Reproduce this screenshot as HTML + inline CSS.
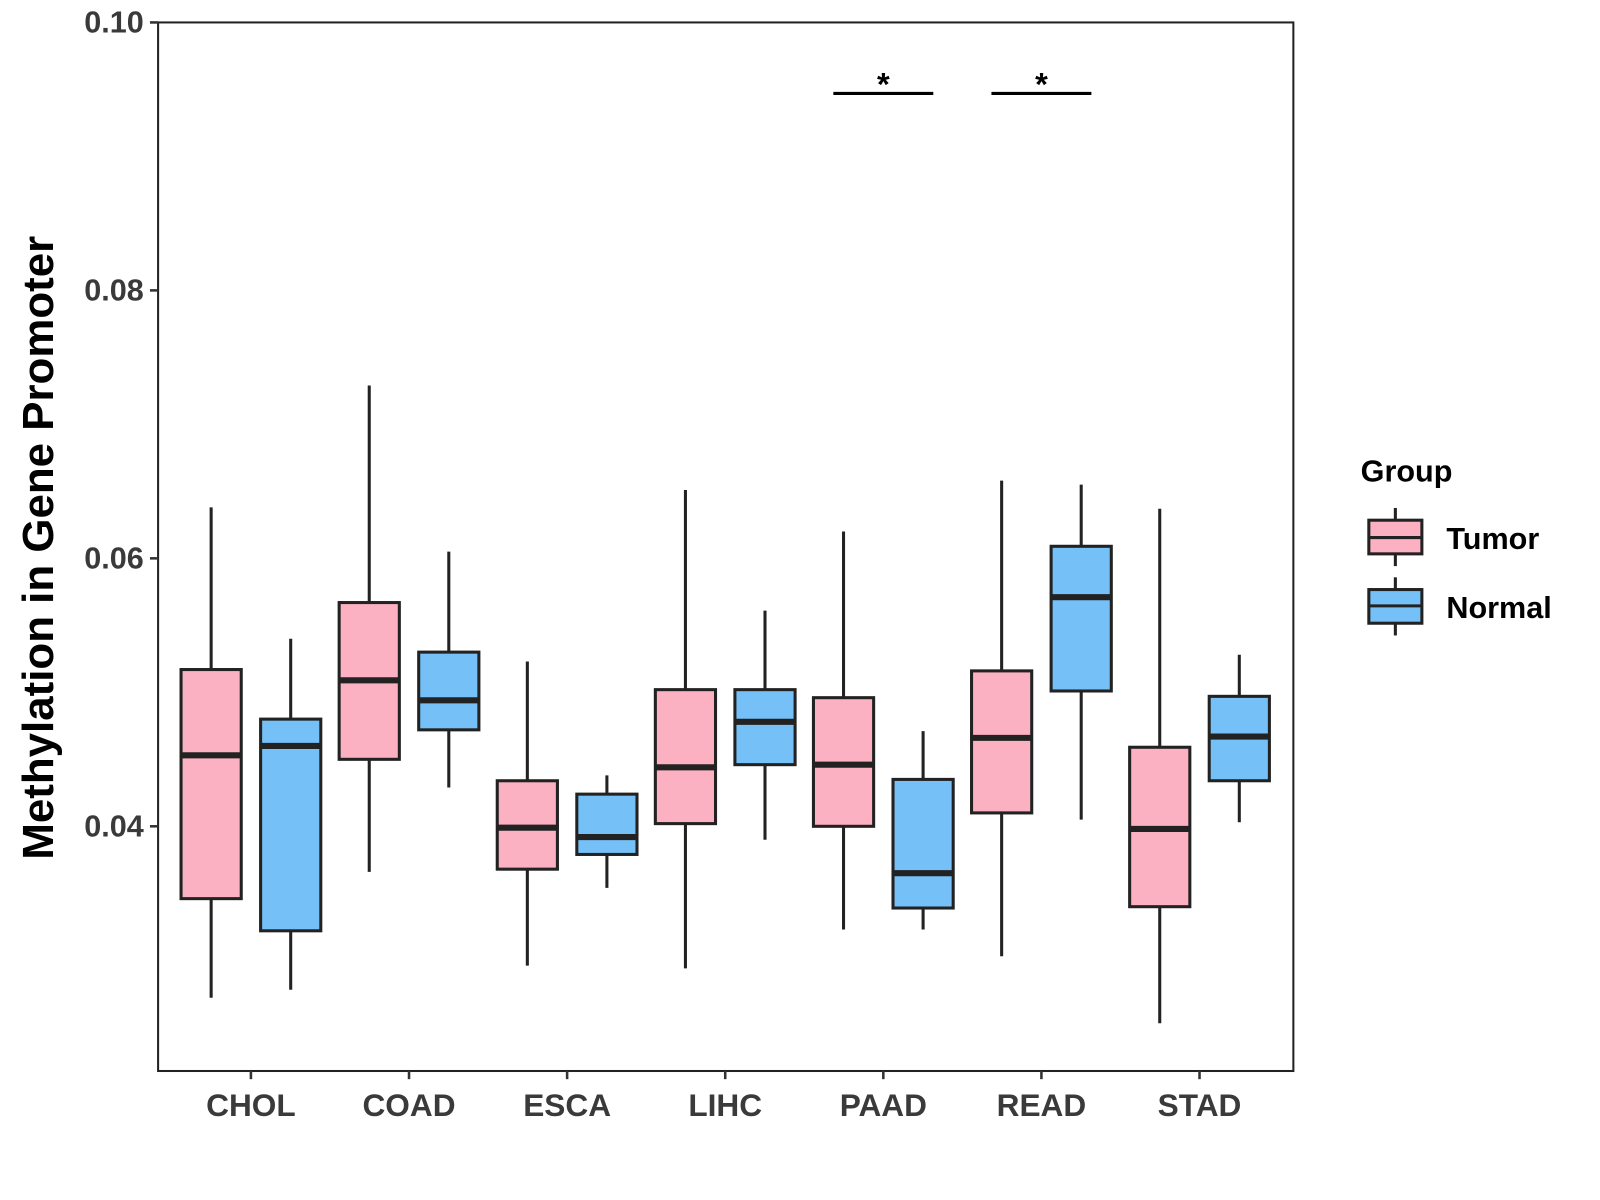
<!DOCTYPE html>
<html><head><meta charset="utf-8"><style>
html,body{margin:0;padding:0;background:#fff;}
svg{display:block;font-family:"Liberation Sans",Arial,sans-serif;}
</style></head><body>
<svg id="chart" width="1600" height="1200" viewBox="0 0 1600 1200" xmlns="http://www.w3.org/2000/svg">
<rect x="0" y="0" width="1600" height="1200" fill="#fff"/>
<g transform="scale(1.02)">
<g id="plot"></g>
<text transform="translate(52,537) rotate(-90)" text-anchor="middle" font-size="43" font-weight="bold" fill="#000">Methylation in Gene Promoter</text>
<g>
<text x="1334" y="472" font-size="30" font-weight="bold" fill="#000">Group</text>
<g>
<line x1="1368" y1="498" x2="1368" y2="555" stroke="#222" stroke-width="3"/>
<rect x="1342" y="510" width="52" height="33" fill="#fbb1c1" stroke="#222" stroke-width="3"/>
<line x1="1342" y1="527" x2="1394" y2="527" stroke="#222" stroke-width="3"/>
<text x="1418" y="538" font-size="30" font-weight="bold" fill="#000">Tumor</text>
</g>
<g>
<line x1="1368" y1="566" x2="1368" y2="623" stroke="#222" stroke-width="3"/>
<rect x="1342" y="578" width="52" height="33" fill="#75c1f7" stroke="#222" stroke-width="3"/>
<line x1="1342" y1="594" x2="1394" y2="594" stroke="#222" stroke-width="3"/>
<text x="1418" y="606" font-size="30" font-weight="bold" fill="#000">Normal</text>
</g>
</g>
</g>
</svg>
<script>
const categories = ["CHOL","COAD","ESCA","LIHC","PAAD","READ","STAD"];
// [whiskerLow, Q1, median, Q3, whiskerHigh]
const tumorStats = [
  [0.0272,0.0346,0.0453,0.0517,0.0638],
  [0.0366,0.0450,0.0509,0.0567,0.0729],
  [0.0296,0.0368,0.0399,0.0434,0.0523],
  [0.0294,0.0402,0.0444,0.0502,0.0651],
  [0.0323,0.0400,0.0446,0.0496,0.0620],
  [0.0303,0.0410,0.0466,0.0516,0.0658],
  [0.0253,0.0340,0.0398,0.0459,0.0637]
];
const normalStats = [
  [0.0278,0.0322,0.0460,0.0480,0.0540],
  [0.0429,0.0472,0.0494,0.0530,0.0605],
  [0.0354,0.0379,0.0392,0.0424,0.0438],
  [0.0390,0.0446,0.0478,0.0502,0.0561],
  [0.0323,0.0339,0.0365,0.0435,0.0471],
  [0.0405,0.0501,0.0571,0.0609,0.0655],
  [0.0403,0.0434,0.0467,0.0497,0.0528]
];
const yTicks = [0.04,0.06,0.08,0.10];
const yTickLabels = ["0.04","0.06","0.08","0.10"];
const sigCategories = ["PAAD","READ"];
const sigLevel = 0.0947;

const L=155,R=1268,T=22,B=1050;
const yMin=0.10-(B-T)/13135, yMax=0.10;
function yScale(v){return T+(yMax-v)/(yMax-yMin)*(B-T);}
function xScale(i){return 246+i*155;}
const NS="http://www.w3.org/2000/svg";
const g=document.getElementById('plot');
function el(tag,attrs,parent){const e=document.createElementNS(NS,tag);for(const k in attrs)e.setAttribute(k,attrs[k]);(parent||g).appendChild(e);return e;}

const panel=el('rect',{x:L,y:T,width:R-L,height:B-T,fill:'none',stroke:'#222','stroke-width':2});



yTicks.forEach((v,i)=>{
  const y=yScale(v);
  const tk=el('line',{x1:L-8,x2:L,y1:y,y2:y,stroke:'#333','stroke-width':2.5});
  
  
  const t=el('text',{x:L-14,y:y+10,'text-anchor':'end','font-size':30,'font-weight':'bold',fill:'#3a3a3a'});
  t.textContent=yTickLabels[i];
  
  
});
categories.forEach((c,i)=>{
  const x=xScale(i);
  const tk=el('line',{x1:x,x2:x,y1:B,y2:B+8,stroke:'#333','stroke-width':2.5});
  
  
  const t=el('text',{x:x,y:B+44,'text-anchor':'middle','font-size':31,'font-weight':'bold',fill:'#3a3a3a'});
  t.textContent=c;
  
  
});

function drawBox(s,cx,fill,name){
  const bg=el('g',{});
  
  
  const w=59;
  el('line',{x1:cx,x2:cx,y1:yScale(s[0]),y2:yScale(s[4]),stroke:'#222','stroke-width':3},bg);
  el('rect',{x:cx-w/2,y:yScale(s[3]),width:w,height:yScale(s[1])-yScale(s[3]),fill:fill,stroke:'#222','stroke-width':3},bg);
  el('line',{x1:cx-w/2,x2:cx+w/2,y1:yScale(s[2]),y2:yScale(s[2]),stroke:'#222','stroke-width':6},bg);
}
categories.forEach((c,i)=>{
  drawBox(tumorStats[i],xScale(i)-39,'#fbb1c1','box-tumor-'+c.toLowerCase());
  drawBox(normalStats[i],xScale(i)+39,'#75c1f7','box-normal-'+c.toLowerCase());
});
sigCategories.forEach(c=>{
  const i=categories.indexOf(c);const x=xScale(i);const y=yScale(sigLevel);
  const ln=el('line',{x1:x-49,x2:x+49,y1:y,y2:y,stroke:'#000','stroke-width':3});
  
  
  const t=el('text',{x:x,y:y+2,'text-anchor':'middle','font-size':32,'font-weight':'bold',fill:'#000'});
  t.textContent='*';
  
  
});
</script>
</body></html>
